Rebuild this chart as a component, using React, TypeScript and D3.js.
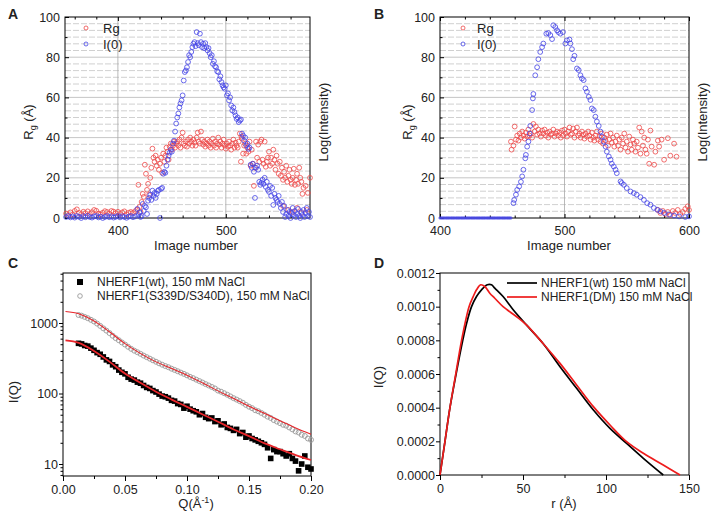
import React, { useEffect, useRef } from 'react'
import * as d3 from 'd3'

const FONT = '"Liberation Sans", Arial, Helvetica, sans-serif'
const RED_PT = '#ee4848'
const BLUE_PT = '#4444e6'
const FIT_RED = '#e8262b'

// ---- Panel A: Rg / I(0) vs image number ----
const aRg: [number, number][] = [
  [352, 2.2], [354, 1.5], [356, 2.8], [358, 1.8], [360, 3.5], [362, 4.3], [364, 2.5], [366, 1.9], [368, 3.1], [370, 2.4],
  [372, 3.3], [374, 2.0], [376, 2.9], [378, 4.0], [380, 3.6], [382, 2.2], [384, 1.7], [386, 2.6], [388, 3.4], [390, 3.0],
  [392, 2.1], [394, 3.5], [396, 3.2], [398, 2.4], [400, 3.1], [402, 2.0], [404, 2.8], [406, 3.3], [408, 1.8], [410, 2.6],
  [412, 3.0], [414, 2.5], [416, 3.4], [418, 4.2],
  [419, 16.5], [420, 5.5], [421, 3.0], [422, 8], [423, 12], [424, 10.5], [425, 26.5], [426, 22], [427, 14], [428, 17],
  [429, 11.5], [430, 20], [431, 25], [432, 34.5], [433, 30], [434, 28], [435, 31], [436, 26], [437, 29], [438, 24],
  [439, 27], [440, 30], [441, 22.5], [442, 32], [443, 28], [444, 31], [445, 35], [446, 33], [447, 29], [448, 35.5],
  [449, 37], [450, 34], [451, 36], [452, 38], [453, 35], [454, 37],
  [455, 38], [456, 36], [457, 39], [458, 35], [459, 40], [460, 42.5], [461, 37], [462, 36], [463, 38], [464, 35.5],
  [465, 39], [466, 37], [467, 40], [468, 38], [469, 36], [470, 39], [471, 37.5], [472, 36], [473, 40], [474, 42.5],
  [475, 38], [476, 37], [477, 43], [478, 39], [479, 36.5], [480, 38], [481, 35.5], [482, 37], [483, 39], [484, 36],
  [485, 38], [486, 35], [487, 37], [488, 39.5], [489, 36], [490, 38], [491, 35], [492, 37], [493, 40], [494, 36.5],
  [495, 38], [496, 35], [497, 37], [498, 39], [499, 36], [500, 34.5], [501, 37], [502, 35.5], [503, 38], [504, 36],
  [505, 34], [506, 37], [507, 39], [508, 35], [509, 37.5], [510, 36], [511, 35], [512, 38], [513, 42], [514, 28],
  [514.5, 40.5], [515, 39.5],
  [516, 32], [517, 36], [518, 37], [519, 32], [520, 35], [521, 33], [522, 38], [523, 26], [524, 34], [525, 27],
  [526, 16], [527, 25], [528, 38], [529, 30], [530, 36.5], [531, 28], [532, 38], [533, 39], [534, 29], [535, 27],
  [536, 38], [537, 25.5], [538, 28], [539, 30], [540, 33], [541, 26], [542, 30], [543, 27], [544, 34], [545, 29],
  [546, 24], [547, 31], [548, 27], [549, 22], [550, 28], [551, 21], [552, 25], [553, 19], [554, 23], [555, 20],
  [556, 26], [557, 18], [558, 21], [559, 24], [560, 19], [561, 17], [562, 20], [563, 24.5], [564, 16.5], [565, 19],
  [566, 22], [567, 17], [568, 25], [569, 20], [570, 18], [571, 12], [572, 15], [574, 16], [576, 12.5], [578, 20],
  [553, 6], [558, 4], [562, 3], [566, 5], [570, 2.5], [575, 4],
]

const aI0: [number, number][] = [
  [352, 0.5], [354, 1], [356, 0.3], [358, 0.8], [360, 0.2], [362, 1], [364, 0.6], [366, 0], [368, 0.9], [370, 0.4],
  [372, 1.1], [374, 0.5], [376, 0.2], [378, 0.8], [380, 1], [382, 0.3], [384, 0.7], [386, 0], [388, 0.5], [390, 1],
  [392, 0.4], [394, 0.8], [396, 0.2], [398, 0.6], [400, 1], [402, 0.3], [404, 0.9], [406, 0.5], [408, 0.1], [410, 0.7],
  [412, 1], [414, 0.4], [416, 0.8],
  [418, 4.5], [419, 1.5], [420, 2.8], [421, 0.5], [422, 1], [423, 7], [424, 3.5], [425, 6], [426, 5.3], [427, 2],
  [428, 8.6], [429, 10], [430, 11.5], [431, 9], [432, 13.6], [433, 11], [434, 12.5], [435, 10], [436, 12], [437, 13.5],
  [438, 14], [439, 0], [440, 14.5], [441, 15], [442, 22], [443, 23], [444, 22.5], [445, 26], [446, 29], [447, 31],
  [448, 32.5], [449, 34], [450, 33], [451, 37], [452, 38.5], [453, 43], [454, 47], [455, 50], [456, 52], [457, 55],
  [458, 57], [459, 58.5], [460, 61], [461, 68.4], [462, 72.6], [463, 73.4], [464, 75], [465, 77.6], [466, 81], [467, 80],
  [468, 82.6], [469, 85], [470, 86.7], [471, 87.5], [472, 85.5], [473, 92.5], [474, 87], [475, 86], [476, 91.7], [477, 87.5],
  [478, 85], [479, 86.7], [480, 84.5], [481, 87], [482, 85], [483, 83.4], [484, 84.5], [485, 82], [486, 80], [487, 81],
  [488, 76.7], [489, 78], [490, 75.5], [491, 75], [492, 73], [493, 72.6], [494, 69], [495, 70.5], [496, 67.6], [497, 66],
  [498, 65], [499, 64.3], [500, 66], [501, 61], [502, 62], [503, 58.5], [504, 60], [505, 56], [506, 53.5], [507, 55],
  [508, 52.7], [509, 51], [510, 49.3], [511, 50], [512, 47.7], [513, 48.5], [514, 49], [515, 42], [516, 41], [517, 38.5],
  [518, 40], [519, 36], [520, 37], [521, 34.4], [522, 35], [523, 26.5], [524, 25], [525, 27], [526, 23], [527, 10],
  [528, 25], [529, 26], [530, 24], [531, 18], [532, 16.5], [533, 17.5], [534, 19], [535, 17], [536, 20], [537, 15.5],
  [538, 18], [539, 14], [540, 13], [541, 16], [542, 11], [543, 15], [544, 6.5], [545, 12], [546, 10], [547, 9],
  [548, 8], [549, 11], [550, 7], [551, 5], [552, 8], [553, 3], [554, 6], [555, 0.5], [556, 2], [557, 4],
  [558, 1], [559, 3], [560, 0], [561, 2.5], [562, 5], [563, 1.5], [564, 3.5], [565, 0.5], [566, 2], [567, 4.5],
  [568, 1], [569, 0], [570, 3], [571, 1.5], [572, 4], [573, 0.5], [574, 2.5], [575, 5], [576, 1], [577, 3], [578, 0.5],
]

// ---- Panel B ----
const bFlatImages = [
  400, 401, 402, 403, 404, 405, 406, 407, 408, 409, 410, 411, 412, 413, 414, 415, 416, 417, 418, 419,
  420, 421, 422, 423, 424, 425, 426, 427, 428, 429, 430, 431, 432, 433, 434, 435, 436, 437, 438, 439,
  440, 441, 442, 443, 444, 445, 446, 447, 448, 449, 450, 451, 452, 453, 454, 455, 456, 457,
]

const bRg: [number, number][] = [
  [457, 38], [457.5, 34], [459, 36], [460, 45.5], [461, 39], [462, 41], [463, 38.5], [464, 42], [465, 40], [466, 43],
  [467, 41], [468, 39.5], [469, 42.5], [470, 40.5], [471, 44], [472, 41], [473, 42], [474, 40], [475, 46.8], [476, 43],
  [477, 45.5], [478, 41.5], [479, 44], [480, 42], [481, 40.5], [482, 43.5], [483, 42], [484, 44], [485, 41], [486, 42.5],
  [487, 40], [488, 43], [489, 41.5], [490, 42], [491, 44], [492, 40.5], [493, 42], [494, 43], [495, 41], [496, 42.5],
  [497, 40], [498, 43.5], [499, 41], [500, 44], [501, 42], [502, 40.5], [503, 43], [504, 45], [505, 41.5], [506, 42],
  [507, 44.5], [508, 40], [509, 43], [510, 45], [511, 41], [512, 42], [513, 40], [514, 43], [515, 41.5], [516, 39.5],
  [517, 42], [518, 40.5], [519, 43], [520, 41], [521, 39], [522, 42.5], [523, 40], [524, 38.5], [525, 41], [526, 43],
  [527, 39], [528, 40.5], [529, 38], [530, 42], [531, 37], [532, 40], [533, 38.5], [534, 41.5], [535, 36], [536, 39],
  [537, 42], [538, 37.5], [539, 40], [540, 35.5], [541, 38], [542, 41], [543, 36], [544, 39], [545, 34], [546, 40],
  [547, 37], [548, 42], [549, 35], [550, 38], [551, 33], [552, 40.5], [553, 36.5], [554, 34], [555, 39], [556, 37],
  [557, 33], [558, 38], [559, 35], [560, 45], [561, 32], [562, 43], [563, 36], [564, 40], [565, 34], [566, 32],
  [567, 39], [568, 27], [569, 43.5], [570, 35.5], [572, 26.5], [573, 33], [575, 38.5], [576, 35.5], [578, 39], [580, 29],
  [583, 39.7], [585, 31], [588, 37], [590, 30.5],
  [575, 4], [577, 2.5], [579, 3.5], [581, 2], [583, 3], [585, 1.5], [587, 3.5], [589, 2.5], [591, 4], [593, 2],
  [595, 3], [597, 4.5], [599, 5.8], [600, 4],
]

const bI0: [number, number][] = [
  [459, 7.4], [459.6, 9], [461, 11.6], [462, 14], [463.6, 15.7], [465, 18], [466, 20.7], [467, 24], [468.5, 29.7], [469, 31.4],
  [470, 35.5], [471, 38], [472, 42], [472.5, 45.8], [474, 53.7], [474.6, 59.5], [475, 61.7], [476.5, 71], [478, 75], [479, 79],
  [480.5, 82.6], [482, 85], [483, 86.8], [485.4, 91.7], [487, 92], [488.6, 91], [490, 89], [491, 95.9], [492.6, 95], [494, 93.4],
  [495, 92.5], [496.6, 91.7], [498.8, 92.5], [500.7, 86.8], [502, 88.4], [504, 88.8], [504.7, 86.8], [506, 84], [507, 79], [508, 80.7],
  [510, 74.4], [511.4, 73.6], [512.8, 71], [514, 69.4], [515.4, 68.6], [516.8, 64.5], [518, 62.8], [519.5, 60.3], [520.8, 58.7], [522, 54.5],
  [523.5, 53.7], [524.8, 50.4], [526, 48], [527.5, 45.8], [528.9, 43], [530, 40.5], [531.5, 38], [533, 35.5], [534, 33], [535.6, 30.6],
  [537, 29], [538, 27], [539.6, 25.6], [541, 24], [542, 22.3], [545, 18.2], [546, 17.4], [547.7, 16.5], [550, 14.9], [553, 13.2],
  [555.7, 12.4], [558, 11.6], [561, 10.4], [563.8, 9], [566.4, 7.4], [569, 6.6], [571.8, 5], [574.5, 4.1], [577, 3.3], [580, 2.5],
  [584, 1.7], [588, 1.2], [592, 0.8], [597, 0.5], [600, 0.8],
]

// ---- Panel C: SAXS I(Q) ----
const cWt: [number, number][] = [
  [0.0125, 515], [0.015, 505], [0.0175, 480], [0.02, 470], [0.0225, 440], [0.025, 410], [0.0275, 380], [0.03, 360],
  [0.0325, 330], [0.035, 300], [0.0375, 285], [0.04, 255], [0.0425, 240], [0.045, 215], [0.0475, 200], [0.05, 190],
  [0.0525, 170], [0.055, 160], [0.0575, 155], [0.06, 145], [0.0625, 140], [0.065, 130], [0.0675, 122], [0.07, 118],
  [0.0725, 110], [0.075, 105], [0.0775, 98], [0.08, 92], [0.0825, 90], [0.085, 86], [0.0875, 80], [0.09, 78],
  [0.0925, 72], [0.095, 70], [0.0975, 62], [0.1, 66], [0.1025, 60], [0.105, 57], [0.1075, 55], [0.11, 50],
  [0.1125, 52], [0.115, 46], [0.1175, 44], [0.12, 45], [0.1225, 40], [0.125, 41], [0.1275, 36], [0.13, 37],
  [0.1325, 33], [0.135, 32], [0.1375, 30], [0.14, 31], [0.1425, 27], [0.145, 28], [0.1475, 24], [0.15, 25],
  [0.1525, 23], [0.155, 22], [0.1575, 21], [0.16, 20], [0.1625, 19], [0.165, 17], [0.1675, 12], [0.17, 16],
  [0.1725, 15], [0.175, 15], [0.1775, 14], [0.18, 13], [0.1825, 14], [0.185, 12], [0.1875, 11], [0.19, 8],
  [0.1925, 10], [0.195, 13], [0.1975, 9], [0.2, 8.5],
]

const cDm: [number, number][] = [
  [0.0125, 1300], [0.015, 1270], [0.0175, 1220], [0.02, 1170], [0.0225, 1110], [0.025, 1050], [0.0275, 980], [0.03, 910],
  [0.0325, 840], [0.035, 780], [0.0375, 720], [0.04, 660], [0.0425, 610], [0.045, 570], [0.0475, 530], [0.05, 495],
  [0.0525, 460], [0.055, 430], [0.0575, 405], [0.06, 385], [0.0625, 365], [0.065, 345], [0.0675, 328], [0.07, 312],
  [0.0725, 296], [0.075, 282], [0.0775, 268], [0.08, 256], [0.0825, 245], [0.085, 236], [0.0875, 225], [0.09, 216],
  [0.0925, 207], [0.095, 198], [0.0975, 190], [0.1, 181], [0.1025, 172], [0.105, 165], [0.1075, 157], [0.11, 150],
  [0.1125, 143], [0.115, 136], [0.1175, 130], [0.12, 124], [0.1225, 118], [0.125, 110], [0.1275, 106], [0.13, 101],
  [0.1325, 96], [0.135, 91], [0.1375, 86], [0.14, 82], [0.1425, 78], [0.145, 74], [0.1475, 69], [0.15, 65],
  [0.1525, 62], [0.155, 58], [0.1575, 56], [0.16, 53], [0.1625, 50], [0.165, 47], [0.1675, 45], [0.17, 42],
  [0.1725, 40], [0.175, 38], [0.1775, 36], [0.18, 35], [0.1825, 33], [0.185, 31], [0.1875, 29], [0.19, 28],
  [0.1925, 26], [0.195, 25], [0.1975, 23], [0.2, 22],
]

const cWtFit: [number, number][] = [
  [0.002, 566], [0.0127, 522], [0.025, 401], [0.0377, 281], [0.05, 192], [0.0627, 141], [0.075, 106], [0.0877, 82],
  [0.1, 64.7], [0.1127, 50.4], [0.125, 39.8], [0.1377, 30.9], [0.15, 24.9], [0.1627, 19.6], [0.175, 16.2],
  [0.1877, 13.4], [0.2, 11.4],
]

const cDmFit: [number, number][] = [
  [0.002, 1455], [0.0127, 1352], [0.025, 1066], [0.0377, 745], [0.05, 510], [0.0627, 368], [0.075, 281], [0.0877, 226],
  [0.1, 182], [0.1127, 141], [0.125, 109], [0.1377, 85], [0.15, 66], [0.1627, 52], [0.175, 41], [0.1877, 32.5],
  [0.2, 26.5],
]

// ---- Panel D: P(r) ----
const dWt: [number, number][] = [
  [0, 0], [3, 0.0002], [6, 0.0004], [9.7, 0.0006], [13.7, 0.0008], [16, 0.0009], [19, 0.001], [22, 0.00106],
  [25, 0.0011], [28.5, 0.00113], [31, 0.00113], [33, 0.00111], [38, 0.00106], [44.2, 0.00098], [52.2, 0.00089],
  [62.2, 0.00078], [72.3, 0.000643], [82.3, 0.000515], [92.4, 0.000386], [102.4, 0.000277], [112.4, 0.000188],
  [122.5, 0.0000992], [134.5, 0],
]

const dDm: [number, number][] = [
  [0, 0], [3, 0.0002], [6, 0.0004], [9.5, 0.0006], [13, 0.0008], [17.5, 0.001], [20, 0.00106], [22, 0.0011],
  [24.5, 0.00113], [27, 0.00112], [30, 0.00108], [33, 0.00105], [38, 0.001], [46.2, 0.00094], [52.2, 0.00089],
  [62.2, 0.00078], [72.3, 0.000663], [82.3, 0.000535], [92.4, 0.000406], [102.4, 0.000297], [112.4, 0.000198],
  [122.5, 0.000129], [134.5, 0.0000594], [144.6, 0],
]

type G = d3.Selection<SVGGElement, unknown, null, undefined>

function styleAxis(sel: G, labels = true) {
  sel.select('.domain').remove()
  sel.selectAll('line').attr('stroke', '#000')
  if (labels) {
    sel.selectAll('text').attr('font-family', FONT).attr('font-size', 12.5).attr('fill', '#222')
  } else {
    sel.selectAll('text').remove()
  }
}

function frame(g: G, x0: number, x1: number, y0: number, y1: number) {
  g.append('rect')
    .attr('x', x0).attr('y', y0)
    .attr('width', x1 - x0).attr('height', y1 - y0)
    .attr('fill', 'none').attr('stroke', '#000').attr('stroke-width', 1)
}

function label(g: G, x: number, y: number, txt: string, opts: { rotate?: boolean; size?: number; weight?: string; anchor?: string } = {}) {
  const t = g.append('text')
    .attr('transform', `translate(${x},${y})${opts.rotate ? ' rotate(-90)' : ''}`)
    .attr('text-anchor', opts.anchor ?? 'middle')
    .attr('font-family', FONT)
    .attr('font-size', opts.size ?? 13)
    .attr('font-weight', opts.weight ?? 'normal')
    .attr('fill', '#222')
  t.text(txt)
  return t
}

function rgTitle(g: G, x: number, y: number) {
  const t = label(g, x, y, '', { rotate: true })
  t.append('tspan').text('R')
  t.append('tspan').attr('font-size', 9).attr('dy', 3).text('g')
  t.append('tspan').attr('dy', -3).text(' (Å)')
}

function circles(g: G, data: [number, number][], x: d3.ScaleLinear<number, number>, y: d3.ScaleLinear<number, number>, color: string, r = 2.4) {
  g.append('g').selectAll('circle')
    .data(data)
    .enter()
    .append('circle')
    .attr('cx', d => x(d[0]))
    .attr('cy', d => y(d[1]))
    .attr('r', r)
    .attr('fill', 'none')
    .attr('stroke', color)
    .attr('stroke-width', 0.8)
}

function elutionPanel(
  g: G, x: d3.ScaleLinear<number, number>, y: d3.ScaleLinear<number, number>,
  xMajor: number[], xMinor: number[], xGrid: number[],
) {
  const [x0, x1] = x.range()
  const [y1, y0] = y.range()
  // horizontal grid: 30 divisions, solid at labelled values
  const step = 100 / 30
  d3.range(1, 30).forEach(i => {
    const v = i * step
    g.append('line')
      .attr('x1', x0).attr('x2', x1)
      .attr('y1', y(v)).attr('y2', y(v))
      .attr('stroke', i % 6 === 0 ? '#b8b8b8' : '#c4c4c4')
      .attr('stroke-width', 0.8)
      .attr('stroke-dasharray', i % 6 === 0 ? null : '6,2')
  })
  xGrid.forEach(v => {
    g.append('line')
      .attr('x1', x(v)).attr('x2', x(v))
      .attr('y1', y0).attr('y2', y1)
      .attr('stroke', '#a8a8a8').attr('stroke-width', 0.8)
  })

  const bottom = g.append('g').attr('transform', `translate(0,${y1})`)
    .call(d3.axisBottom(x).tickValues(xMajor).tickFormat(d3.format('d')).tickSize(-4).tickSizeOuter(0).tickPadding(8))
  styleAxis(bottom)
  const bottomMinor = g.append('g').attr('transform', `translate(0,${y1})`)
    .call(d3.axisBottom(x).tickValues(xMinor).tickSize(-2.5).tickSizeOuter(0))
  styleAxis(bottomMinor, false)
  const top = g.append('g').attr('transform', `translate(0,${y0})`)
    .call(d3.axisTop(x).tickValues(xMajor).tickSize(-4).tickSizeOuter(0))
  styleAxis(top, false)
  const topMinor = g.append('g').attr('transform', `translate(0,${y0})`)
    .call(d3.axisTop(x).tickValues(xMinor).tickSize(-2.5).tickSizeOuter(0))
  styleAxis(topMinor, false)

  const left = g.append('g').attr('transform', `translate(${x0},0)`)
    .call(d3.axisLeft(y).tickValues([0, 20, 40, 60, 80, 100]).tickSize(-4).tickSizeOuter(0).tickPadding(5))
  styleAxis(left)
  const leftMinor = g.append('g').attr('transform', `translate(${x0},0)`)
    .call(d3.axisLeft(y).tickValues([10, 30, 50, 70, 90]).tickSize(-2.5).tickSizeOuter(0))
  styleAxis(leftMinor, false)

  frame(g, x0, x1, y0, y1)
}

function legendRgI0(g: G, cx: number, tx: number) {
  g.append('circle').attr('cx', cx).attr('cy', 28).attr('r', 2).attr('fill', 'none').attr('stroke', RED_PT).attr('stroke-width', 0.8)
  g.append('circle').attr('cx', cx).attr('cy', 44).attr('r', 2).attr('fill', 'none').attr('stroke', BLUE_PT).attr('stroke-width', 0.8)
  label(g, tx, 32.5, 'Rg', { anchor: 'start' })
  label(g, tx, 48.5, 'I(0)', { anchor: 'start' })
}

const App: React.FC = () => {
  const svgRef = useRef<SVGSVGElement>(null)

  useEffect(() => {
    const svg = d3.select(svgRef.current)
    svg.selectAll('*').remove()
    const root = svg.append('g') as unknown as G

    // ===== A =====
    const gA = root.append('g') as G
    const ax = d3.scaleLinear().domain([351, 578]).range([65, 310])
    const ay = d3.scaleLinear().domain([0, 100]).range([218, 17])
    elutionPanel(gA, ax, ay, [400, 500], [360, 380, 420, 440, 460, 480, 520, 540, 560], [400, 500])
    circles(gA, aRg, ax, ay, RED_PT)
    circles(gA, aI0, ax, ay, BLUE_PT)
    legendRgI0(gA, 86, 103)
    rgTitle(gA, 33, 122)
    label(gA, 327.5, 122, 'Log(Intensity)', { rotate: true })
    label(gA, 196, 250, 'Image number')
    label(gA, 8, 19, 'A', { anchor: 'start', size: 14, weight: 'bold' })

    // ===== B =====
    const gB = root.append('g') as G
    const bx = d3.scaleLinear().domain([400, 600]).range([440, 689])
    const by = d3.scaleLinear().domain([0, 100]).range([218, 17])
    elutionPanel(gB, bx, by, [400, 500, 600], [420, 440, 460, 480, 520, 540, 560, 580], [500])
    gB.append('g').selectAll('circle')
      .data(bFlatImages)
      .enter()
      .append('circle')
      .attr('cx', d => bx(d))
      .attr('cy', by(0))
      .attr('r', 1.1)
      .attr('fill', 'none')
      .attr('stroke', BLUE_PT)
      .attr('stroke-width', 0.9)
    circles(gB, bRg, bx, by, RED_PT)
    circles(gB, bI0, bx, by, BLUE_PT)
    legendRgI0(gB, 463, 477)
    rgTitle(gB, 412, 122)
    label(gB, 706.5, 122, 'Log(Intensity)', { rotate: true })
    label(gB, 569, 250, 'Image number')
    label(gB, 374, 19, 'B', { anchor: 'start', size: 14, weight: 'bold' })

    // ===== C =====
    const gC = root.append('g') as G
    const cx = d3.scaleLinear().domain([0, 0.2]).range([63, 311])
    const cy = d3.scaleLog().domain([6.76, 5120]).range([476, 273])

    const cBottom = gC.append('g').attr('transform', 'translate(0,476)')
      .call(d3.axisBottom(cx).tickValues([0, 0.05, 0.1, 0.15, 0.2]).tickFormat(d3.format('.2f')).tickSize(5).tickSizeOuter(0).tickPadding(4))
    styleAxis(cBottom)
    const cBottomMinor = gC.append('g').attr('transform', 'translate(0,476)')
      .call(d3.axisBottom(cx).tickValues([0.025, 0.075, 0.125, 0.175]).tickSize(3).tickSizeOuter(0))
    styleAxis(cBottomMinor, false)
    const cLeft = gC.append('g').attr('transform', 'translate(63,0)')
      .call(d3.axisLeft(cy as any).tickValues([10, 100, 1000]).tickFormat(d3.format('d') as any).tickSize(4).tickSizeOuter(0).tickPadding(1))
    styleAxis(cLeft)
    const cLeftMinor = gC.append('g').attr('transform', 'translate(63,0)')
      .call(d3.axisLeft(cy as any).tickValues([7, 8, 9, 20, 30, 40, 50, 60, 70, 80, 90, 200, 300, 400, 500, 600, 700, 800, 900, 2000, 3000, 4000, 5000]).tickSize(2.5).tickSizeOuter(0))
    styleAxis(cLeftMinor, false)
    frame(gC, 63, 311, 273, 476)

    gC.append('g').selectAll('circle')
      .data(cDm)
      .enter()
      .append('circle')
      .attr('cx', d => cx(d[0]))
      .attr('cy', d => cy(d[1]))
      .attr('r', 2.5)
      .attr('fill', 'none')
      .attr('stroke', '#9a9a9a')
      .attr('stroke-width', 0.9)
    gC.append('g').selectAll('rect')
      .data(cWt)
      .enter()
      .append('rect')
      .attr('x', d => cx(d[0]) - 2.8)
      .attr('y', d => cy(d[1]) - 2.8)
      .attr('width', 5.6)
      .attr('height', 5.6)
      .attr('fill', '#000')
    const fitLine = d3.line<[number, number]>()
      .x(d => cx(d[0]))
      .y(d => cy(d[1]))
      .curve(d3.curveCatmullRom.alpha(0.5))
    gC.append('path').datum(cDmFit).attr('d', fitLine).attr('fill', 'none').attr('stroke', FIT_RED).attr('stroke-width', 1.1)
    gC.append('path').datum(cWtFit).attr('d', fitLine).attr('fill', 'none').attr('stroke', FIT_RED).attr('stroke-width', 1.8)

    gC.append('rect').attr('x', 77).attr('y', 279).attr('width', 6).attr('height', 6).attr('fill', '#000')
    gC.append('circle').attr('cx', 80).attr('cy', 296).attr('r', 2.3).attr('fill', 'none').attr('stroke', '#9a9a9a').attr('stroke-width', 0.9)
    label(gC, 97, 286, 'NHERF1(wt), 150 mM NaCl', { anchor: 'start', size: 12 })
    label(gC, 97, 300, 'NHERF1(S339D/S340D), 150 mM NaCl', { anchor: 'start', size: 12 })

    label(gC, 18, 392, 'I(Q)', { rotate: true })
    const qt = label(gC, 196, 508, '')
    qt.append('tspan').text('Q(Å')
    qt.append('tspan').attr('font-size', 9).attr('dy', -5).text('-1')
    qt.append('tspan').attr('dy', 5).text(')')
    label(gC, 8, 268, 'C', { anchor: 'start', size: 14, weight: 'bold' })

    // ===== D =====
    const gD = root.append('g') as G
    const dx = d3.scaleLinear().domain([0, 150]).range([440, 689])
    const dy = d3.scaleLinear().domain([0, 0.0012]).range([475, 273])

    const dBottom = gD.append('g').attr('transform', 'translate(0,475)')
      .call(d3.axisBottom(dx).tickValues([0, 50, 100, 150]).tickFormat(d3.format('d')).tickSize(5).tickSizeOuter(0).tickPadding(4))
    styleAxis(dBottom)
    const dBottomMinor = gD.append('g').attr('transform', 'translate(0,475)')
      .call(d3.axisBottom(dx).tickValues([25, 75, 125]).tickSize(3).tickSizeOuter(0))
    styleAxis(dBottomMinor, false)
    const dLeft = gD.append('g').attr('transform', 'translate(440,0)')
      .call(d3.axisLeft(dy).tickValues([0, 0.0002, 0.0004, 0.0006, 0.0008, 0.001, 0.0012]).tickFormat(d3.format('.4f')).tickSize(4).tickSizeOuter(0).tickPadding(1))
    styleAxis(dLeft)
    const dLeftMinor = gD.append('g').attr('transform', 'translate(440,0)')
      .call(d3.axisLeft(dy).tickValues([0.0001, 0.0003, 0.0005, 0.0007, 0.0009, 0.0011]).tickSize(2.5).tickSizeOuter(0))
    styleAxis(dLeftMinor, false)
    frame(gD, 440, 689, 273, 475)

    const prLine = d3.line<[number, number]>()
      .x(d => dx(d[0]))
      .y(d => dy(d[1]))
      .curve(d3.curveCatmullRom.alpha(0.5))
    gD.append('path').datum(dWt).attr('d', prLine).attr('fill', 'none').attr('stroke', '#000').attr('stroke-width', 1.7)
    gD.append('path').datum(dDm).attr('d', prLine).attr('fill', 'none').attr('stroke', '#ee1c1c').attr('stroke-width', 1.7)

    gD.append('line').attr('x1', 507).attr('x2', 537).attr('y1', 283).attr('y2', 283).attr('stroke', '#000').attr('stroke-width', 1.7)
    gD.append('line').attr('x1', 507).attr('x2', 537).attr('y1', 297).attr('y2', 297).attr('stroke', '#ee1c1c').attr('stroke-width', 1.7)
    label(gD, 541, 287, 'NHERF1(wt) 150 mM NaCl', { anchor: 'start', size: 12 })
    label(gD, 541, 301, 'NHERF1(DM) 150 mM NaCl', { anchor: 'start', size: 12 })

    label(gD, 383, 377, 'I(Q)', { rotate: true })
    label(gD, 564, 508, 'r (Å)')
    label(gD, 374, 268, 'D', { anchor: 'start', size: 14, weight: 'bold' })
  }, [])

  return (
    <svg
      ref={svgRef}
      width={714}
      height={521}
      style={{ position: 'absolute', left: 0, top: 0, background: '#fff' }}
    />
  )
}

export default App
